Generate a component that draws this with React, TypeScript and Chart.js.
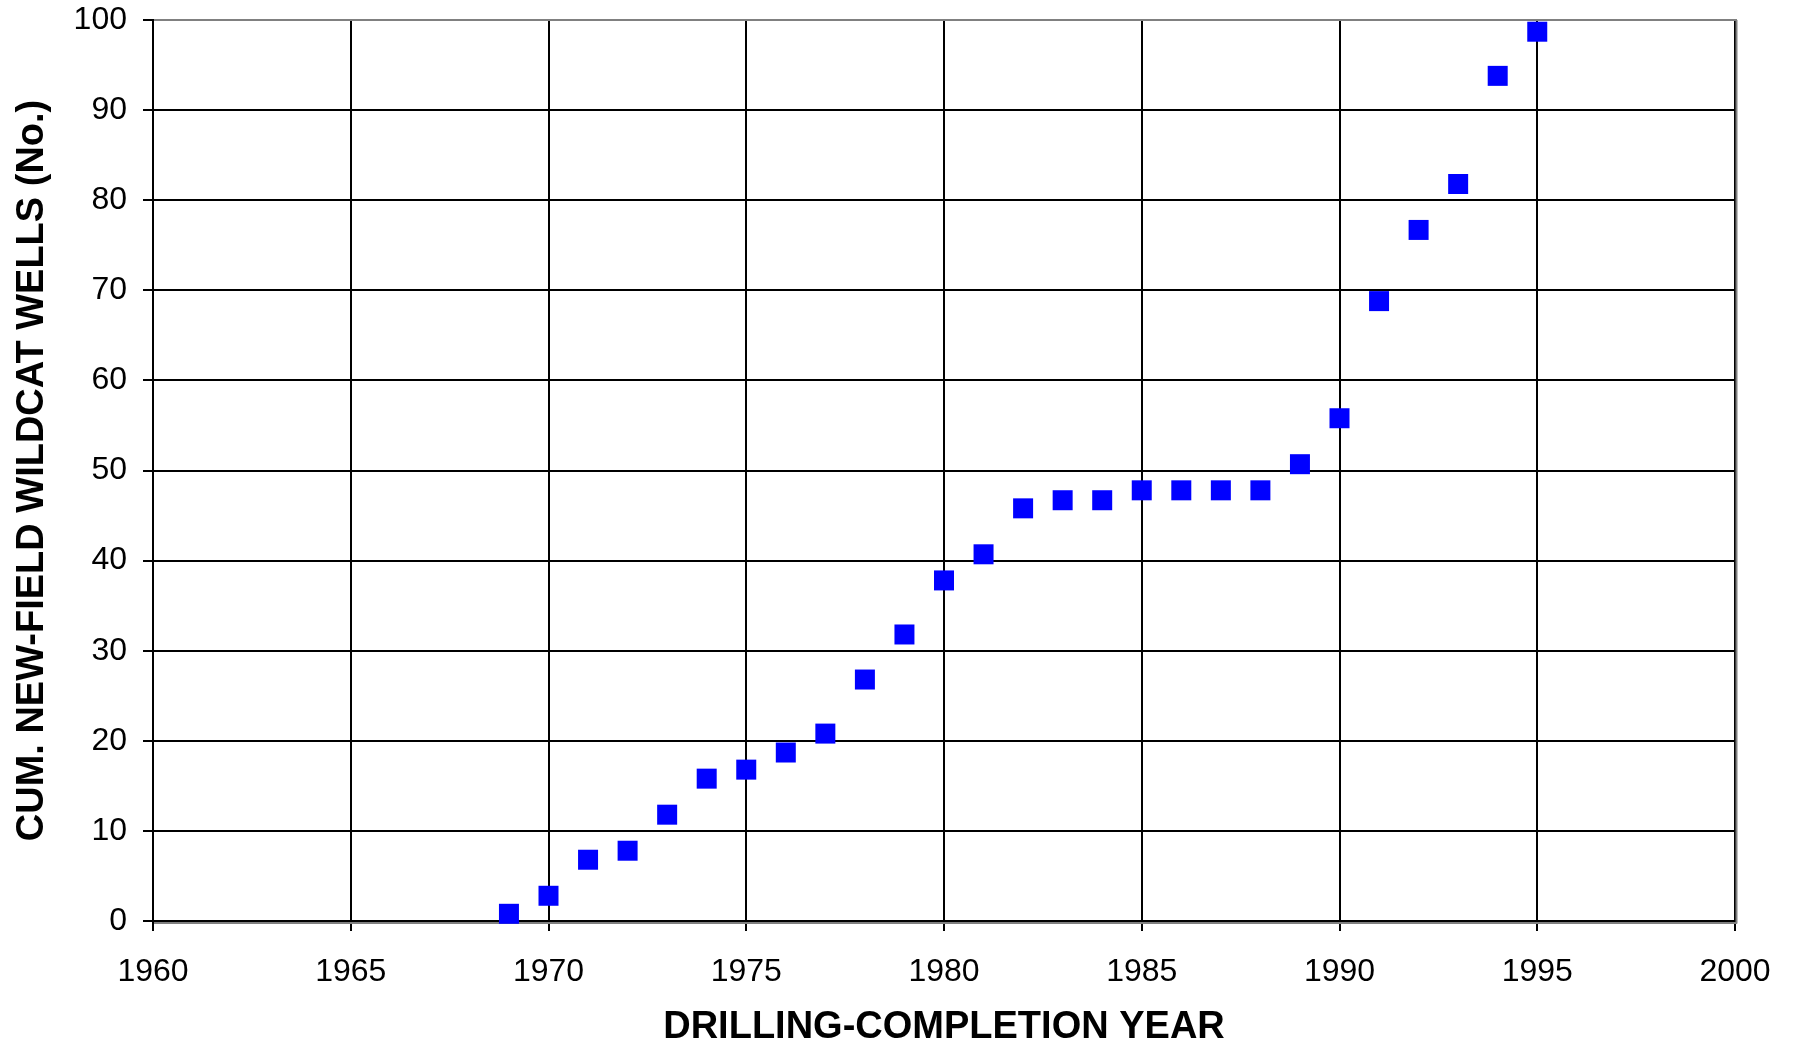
import React, { useEffect, useRef } from "react";
import { Chart, registerables } from "chart.js";

Chart.register(...registerables);

const years = [
  1969, 1970, 1971, 1972, 1973, 1974, 1975, 1976, 1977, 1978, 1979, 1980, 1981,
  1982, 1983, 1984, 1985, 1986, 1987, 1988, 1989, 1990, 1991, 1992, 1993, 1994, 1995,
];
const cumWells = [
  0.8, 2.8, 6.8, 7.8, 11.8, 15.8, 16.8, 18.7, 20.8, 26.8, 31.8, 37.8, 40.7,
  45.8, 46.7, 46.7, 47.8, 47.8, 47.8, 47.8, 50.7, 55.8, 68.8, 76.7, 81.8, 93.8, 98.7,
];
const xTicks = [1960, 1965, 1970, 1975, 1980, 1985, 1990, 1995, 2000];
const yTicks = [0, 10, 20, 30, 40, 50, 60, 70, 80, 90, 100];
const xTitle = "DRILLING-COMPLETION YEAR";
const yTitle = "CUM. NEW-FIELD WILDCAT WELLS (No.)";

const FONT = "'Liberation Sans', Arial, Helvetica, sans-serif";

const borderPlugin = {
  id: "excelBorder",
  beforeDatasetsDraw(chart: any) {
    const { ctx, chartArea } = chart;
    const { left, right, top, bottom } = chartArea;
    ctx.save();
    ctx.strokeStyle = "#808080";
    ctx.lineWidth = 2;
    ctx.beginPath();
    ctx.moveTo(left + 1, top);
    ctx.lineTo(right + 2, top);
    ctx.moveTo(right + 1.5, top);
    ctx.lineTo(right + 1.5, bottom + 2.5);
    ctx.moveTo(left + 1, bottom + 2);
    ctx.lineTo(right + 2, bottom + 2);
    ctx.stroke();
    ctx.restore();
  },
};

export default function App() {
  const ref = useRef<HTMLCanvasElement | null>(null);

  useEffect(() => {
    if (!ref.current) return;
    const chart = new Chart(ref.current, {
      type: "scatter",
      data: {
        datasets: [
          {
            data: years.map((y, i) => ({ x: y, y: cumWells[i] })),
            backgroundColor: "#0000FF",
            borderColor: "#0000FF",
            pointStyle: "rect",
            pointRadius: 14.14,
            pointHoverRadius: 14.14,
            pointBorderWidth: 0,
            showLine: false,
            clip: false as any,
          },
        ],
      },
      options: {
        responsive: false,
        animation: false,
        events: [],
        layout: { padding: { left: 0, top: 20, right: 62, bottom: 0 } },
        plugins: {
          legend: { display: false },
          tooltip: { enabled: false },
        },
        scales: {
          x: {
            type: "linear",
            min: 1960,
            max: 2000,
            afterBuildTicks: (scale: any) => {
              scale.ticks = xTicks.map((v) => ({ value: v }));
            },
            afterFit: (scale: any) => {
              scale.height = 124;
              scale.paddingLeft = 0;
              scale.paddingRight = 0;
            },
            border: { display: true, color: "#000", width: 2 },
            grid: {
              color: "#000",
              lineWidth: 2,
              tickLength: 10,
              drawTicks: true,
              tickColor: "#000",
            },
            ticks: {
              color: "#000",
              padding: 22,
              maxRotation: 0,
              autoSkip: false,
              font: { family: FONT, size: 32 },
              callback: (v: any) => String(v),
            },
            title: {
              display: true,
              text: xTitle,
              color: "#000",
              padding: { top: 0, bottom: -5 },
              font: { family: FONT, size: 38, weight: "bold" },
            },
          },
          y: {
            type: "linear",
            min: 0,
            max: 100,
            afterBuildTicks: (scale: any) => {
              scale.ticks = yTicks.map((v) => ({ value: v }));
            },
            afterFit: (scale: any) => {
              scale.width = 153;
              scale.paddingTop = 0;
              scale.paddingBottom = 0;
            },
            border: { display: true, color: "#000", width: 2 },
            grid: {
              color: "#000",
              lineWidth: 2,
              tickLength: 10,
              drawTicks: true,
              tickColor: "#000",
            },
            ticks: {
              color: "#000",
              padding: 16,
              autoSkip: false,
              font: { family: FONT, size: 32 },
              callback: (v: any) => String(v),
            },
            title: {
              display: true,
              text: yTitle,
              color: "#000",
              padding: { top: 10, bottom: 0 },
              font: { family: FONT, size: 38, weight: "bold" },
            },
          },
        },
      },
      plugins: [borderPlugin],
    });
    return () => chart.destroy();
  }, []);

  return (
    <div style={{ position: "absolute", left: 0, top: 0, width: 1797, height: 1045, background: "#fff" }}>
      <canvas ref={ref} width={1797} height={1045} style={{ display: "block" }} />
    </div>
  );
}
